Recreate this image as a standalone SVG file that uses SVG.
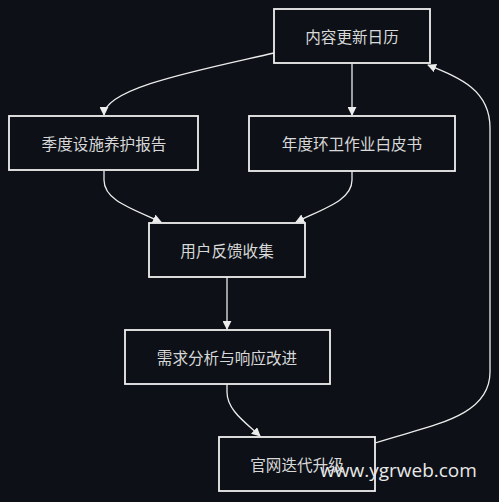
<svg xmlns="http://www.w3.org/2000/svg" width="499" height="502" viewBox="0 0 499 502">
<style>
.n{fill:#0d1117;stroke:#f0f0f0;stroke-width:1.8}
.t{fill:#d8d8d8;font-family:"Noto Sans CJK SC","Noto Sans",sans-serif;font-size:15.6px;text-anchor:middle;dominant-baseline:central}
.c{fill:none;stroke:#ececec;stroke-width:1.3}
</style>
<defs>
<marker id="a" viewBox="0 0 10 10" refX="9" refY="5" markerWidth="9" markerHeight="9" markerUnits="userSpaceOnUse" orient="auto">
<path d="M0,0 L10,5 L0,10 z" fill="#ececec"/>
</marker>
</defs>
<rect width="499" height="502" fill="#0d1017"/>
<g id="connectors">
<path class="c" marker-end="url(#a)" d="M274,53 C200,70 104,88 104,115"/>
<path class="c" marker-end="url(#a)" d="M352,64 L352,115"/>
<path class="c" marker-end="url(#a)" d="M104,171 L104,180 C104,200 130,208 161,222"/>
<path class="c" marker-end="url(#a)" d="M352,171 L352,180 C352,200 325,208 296,222"/>
<path class="c" marker-end="url(#a)" d="M227,277 L227,329"/>
<path class="c" marker-end="url(#a)" d="M227,384 L227,392 C227,410 245,422 260,436"/>
<path class="c" marker-end="url(#a)" d="M375,443 C430,425 490,418 490,372 L490,128 C490,90 460,78 428,65"/>
</g>
<g id="n1"><rect class="n" x="274" y="9" width="156" height="54"/><text class="t" x="352" y="36">内容更新日历</text></g>
<g id="n2"><rect class="n" x="9" y="116" width="189" height="54"/><text class="t" x="104" y="143">季度设施养护报告</text></g>
<g id="n3"><rect class="n" x="249" y="116" width="206" height="55"/><text class="t" x="352" y="143">年度环卫作业白皮书</text></g>
<g id="n4"><rect class="n" x="149" y="223" width="156" height="54"/><text class="t" x="227" y="250">用户反馈收集</text></g>
<g id="n5"><rect class="n" x="125" y="330" width="205" height="54"/><text class="t" x="227" y="357">需求分析与响应改进</text></g>
<g id="n6"><rect class="n" x="219" y="437" width="156" height="54"/><text class="t" x="297" y="464">官网迭代升级</text></g>
<text x="320" y="477" fill="#e8e8e8" font-family="'Open Sans','Noto Sans',sans-serif" font-size="19">www.ygrweb.com</text>
</svg>
